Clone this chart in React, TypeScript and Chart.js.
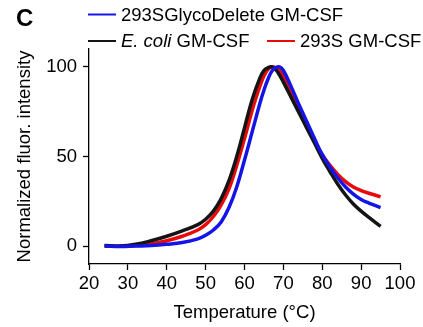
import React, { useEffect, useRef } from "react";
import { Chart, registerables } from "chart.js";

Chart.register(...registerables);

const temperatures = [24, 28, 32, 36, 40, 44, 48, 50, 52, 54, 56, 58, 60, 62, 64, 65, 66, 67, 68, 69, 70, 72, 74, 76, 78, 80, 82, 84, 86, 88, 90, 92, 95];

const ecoliValues = [0.3, 0, 1, 3, 5.5, 8.5, 12, 15, 19.5, 26.5, 36.5, 50, 66, 82, 94, 98, 99.5, 100, 98.5, 95.5, 91.5, 83, 74.5, 66, 57.5, 49, 41.5, 34.5, 28.5, 23.5, 19.5, 16, 11];
const s293Values = [0, 0, 0.3, 1.2, 3, 5.5, 9, 12, 16.5, 23, 32, 45, 60, 76, 89.5, 95, 98.5, 100, 99.5, 98, 95, 86, 77, 68, 59, 51, 45, 40, 36, 33, 31, 29.5, 27.5];
const glycoValues = [0, -0.3, 0, 0.3, 1, 2, 4, 6, 9, 13.5, 21.5, 33, 48, 64, 80, 87, 93, 97.5, 99.5, 100, 98, 89, 79, 69.5, 60, 51, 44, 38, 33, 29, 26, 24, 21.5];

const xTicks = [20, 30, 40, 50, 60, 70, 80, 90, 100];
const yTicks = [0, 50, 100];

const panelLabel = "C";
const xTitle = "Temperature (°C)";
const yTitle = "Normalized fluor. intensity";

const FONT = "'Liberation Sans', Arial, sans-serif";

export default function App() {
  const ref = useRef<HTMLCanvasElement>(null);

  useEffect(() => {
    const canvas = ref.current!;
    const legendPlugin = {
      id: "customLegend",
      afterDraw(chart: any) {
        const ctx = chart.ctx;
        ctx.save();
        ctx.fillStyle = "#000";
        ctx.font = `bold 24px ${FONT}`;
        ctx.textBaseline = "alphabetic";
        ctx.fillText(panelLabel, 16, 26);

        const drawEntry = (x: number, y: number, color: string, parts: { t: string; italic?: boolean }[]) => {
          ctx.strokeStyle = color;
          ctx.lineWidth = 2;
          ctx.beginPath();
          ctx.moveTo(x, y - 6);
          ctx.lineTo(x + 28, y - 6);
          ctx.stroke();
          let tx = x + 33;
          ctx.fillStyle = "#000";
          for (const p of parts) {
            ctx.font = `${p.italic ? "italic " : ""}18.5px ${FONT}`;
            ctx.fillText(p.t, tx, y);
            tx += ctx.measureText(p.t).width;
          }
        };
        const ds = chart.data.datasets;
        drawEntry(88, 20.5, ds[0].borderColor, [{ t: ds[0].label }]);
        drawEntry(88, 47, ds[1].borderColor, [{ t: "E. coli", italic: true }, { t: " GM-CSF" }]);
        drawEntry(267, 47, ds[2].borderColor, [{ t: ds[2].label }]);
        ctx.restore();
      },
    };

    const common = { borderWidth: 3.5, pointRadius: 0, tension: 0.4 };

    const chart = new Chart(canvas, {
      type: "line",
      data: {
        labels: temperatures,
        datasets: [
          {
            label: "293SGlycoDelete GM-CSF",
            data: temperatures.map((t, i) => ({ x: t, y: glycoValues[i] })),
            borderColor: "#1414e6",
            ...common,
          },
          {
            label: "E. coli GM-CSF",
            data: temperatures.map((t, i) => ({ x: t, y: ecoliValues[i] })),
            borderColor: "#141414",
            ...common,
          },
          {
            label: "293S GM-CSF",
            data: temperatures.map((t, i) => ({ x: t, y: s293Values[i] })),
            borderColor: "#e60a0a",
            ...common,
          },
        ],
      },
      options: {
        animation: false,
        responsive: false,
        maintainAspectRatio: false,
        layout: { padding: { left: 0, right: 23, top: 49, bottom: 0 } },
        plugins: { legend: { display: false }, tooltip: { enabled: false } },
        scales: {
          x: {
            type: "linear",
            min: 20,
            max: 100,
            afterBuildTicks: (s: any) => {
              s.ticks = xTicks.map((v) => ({ value: v }));
            },
            afterFit: (s: any) => {
              s.height = 63;
            },
            grid: { display: true, drawOnChartArea: false, drawTicks: true, tickLength: 6, color: "#000", tickWidth: 1.3 },
            border: { display: true, color: "#000", width: 1.3 },
            ticks: { color: "#000", font: { family: FONT, size: 18.5 }, padding: 3, maxRotation: 0, autoSkip: false },
            title: { display: true, text: xTitle, color: "#000", font: { family: FONT, size: 18.5 }, padding: { top: 0, bottom: 3 } },
          },
          y: {
            type: "linear",
            min: -10,
            max: 110,
            afterBuildTicks: (s: any) => {
              s.ticks = yTicks.map((v) => ({ value: v }));
            },
            afterFit: (s: any) => {
              s.width = 89;
            },
            grid: { display: true, drawOnChartArea: false, drawTicks: true, tickLength: 6, color: "#000", tickWidth: 1.3 },
            border: { display: true, color: "#000", width: 1.3 },
            ticks: { color: "#000", font: { family: FONT, size: 18.5 }, padding: 6 },
            title: { display: true, text: yTitle, color: "#000", font: { family: FONT, size: 18.5 }, padding: { top: 14, bottom: 0 } },
          },
        },
      },
      plugins: [legendPlugin],
    });
    return () => chart.destroy();
  }, []);

  return (
    <div style={{ position: "fixed", left: 0, top: 0, width: 423, height: 327, background: "#fff" }}>
      <canvas ref={ref} width={423} height={327} style={{ width: 423, height: 327, display: "block" }} />
    </div>
  );
}
